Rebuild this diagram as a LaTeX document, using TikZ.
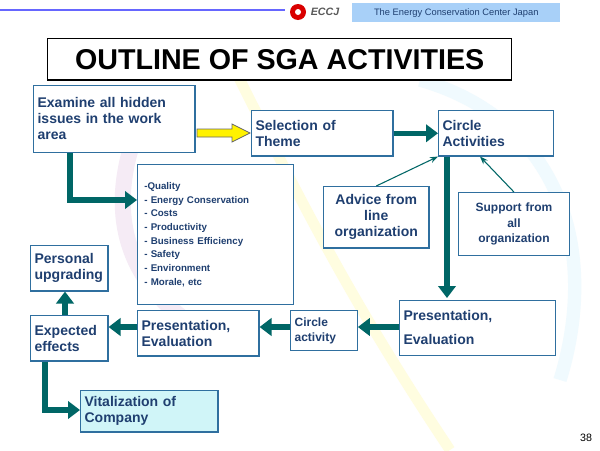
\documentclass[tikz,border=0pt]{standalone}
\usepackage{fontspec}
\setmainfont{Liberation Sans}
\usetikzlibrary{arrows.meta}
\definecolor{tx}{HTML}{1F3F70}
\definecolor{bd}{HTML}{2F6F9F}
\definecolor{ar}{HTML}{006666}
\tikzset{
 bx/.style={draw=bd,line width=0.9pt,fill=white,align=left,font=\bfseries\fontsize{10.5}{12}\selectfont,text=tx,inner sep=3pt,anchor=north west},
 big/.style={line width=4pt,draw=ar,-{Triangle[length=9pt,width=13pt]}},
 thin/.style={draw=ar,line width=0.8pt,-{Stealth[length=6pt]}}
}
\begin{document}
\begin{tikzpicture}[x=0.75pt,y=-0.75pt]
\useasboundingbox[fill=white] (0,0) rectangle (600,450);
% faint background
\draw[yellow!12,line width=8pt] (230,60) .. controls (300,200) and (350,300) .. (450,450);
\draw[cyan!6,line width=10pt] (420,80) .. controls (560,120) and (600,250) .. (560,380);
\draw[violet!8,line width=12pt] (150,100) .. controls (100,200) and (120,280) .. (200,330);
% header
\draw[blue!60,line width=2pt] (0,10) -- (285,10);
\fill[red!85!black] (298,12) circle (8);
\fill[white] (298,12) circle (3);
\node[font=\bfseries\itshape\fontsize{8}{9}\selectfont,text=gray!70!black] (eccj) at (325,12) {ECCJ};
\node[fill={rgb,255:red,168;green,208;blue,248},minimum width=156pt,minimum height=14pt,anchor=north west,inner sep=0pt,font=\fontsize{7}{9}\selectfont,text=tx] (hdr) at (352,3) {The Energy Conservation Center Japan};
\node[draw=black,fill=white,line width=1pt,minimum width=348pt,minimum height=31pt,anchor=north west,font=\bfseries\fontsize{21.5}{22}\selectfont] (title) at (47,38) {OUTLINE OF SGA ACTIVITIES};
% boxes
\node[bx,text width=115pt,minimum height=50pt] (exam) at (33,85) {Examine all hidden\\issues in the work\\area};
\node[bx,text width=100pt,minimum height=34pt] (sel) at (251,110) {Selection of\\Theme};
\node[bx,text width=80pt,minimum height=34pt] (circ) at (438,110) {Circle\\Activities};
\node[bx,text width=107pt,minimum height=105pt,font=\bfseries\fontsize{7.3}{10.3}\selectfont,inner sep=5pt] (list) at (137,164) {-Quality\\- Energy Conservation\\- Costs\\- Productivity\\- Business Efficiency\\- Safety\\- Environment\\- Morale, etc};
\node[bx,draw=bd,text width=73pt,minimum height=46pt,align=center] (adv) at (323,186) {Advice from\\line\\organization};
\node[bx,text width=77pt,minimum height=47pt,align=center,font=\bfseries\fontsize{9}{11.5}\selectfont] (sup) at (458,192) {Support from\\all\\organization};
\node[bx,text width=52pt,minimum height=34pt] (pers) at (30,245) {Personal\\upgrading};
\node[bx,text width=111pt,minimum height=41pt,font=\bfseries\fontsize{10.5}{18}\selectfont] (pr) at (399,300) {Presentation,\\Evaluation};
\node[bx,text width=44pt,minimum height=30pt,font=\bfseries\fontsize{9}{11}\selectfont] (ca) at (290,310) {Circle\\activity};
\node[bx,text width=85pt,minimum height=34pt] (pm) at (137,310) {Presentation,\\Evaluation};
\node[bx,text width=52pt,minimum height=34pt] (exp) at (30,315) {Expected\\effects};
\node[bx,fill={rgb,255:red,208;green,245;blue,248},text width=97pt,minimum height=31pt] (vit) at (80,390) {Vitalization of\\Company};
\node[font=\fontsize{8}{9}\selectfont] (pg) at (586,438) {38};
% arrows
\draw[draw=black!60,fill=yellow,line width=0.6pt] (197,129) -- (232,129) -- (232,124) -- (250,133) -- (232,142) -- (232,137) -- (197,137) -- cycle;
\draw[big] (sel.east) -- (circ.west);
\draw[big] (circ.south -| 447,0) -- (447,298);
\draw[thin] (adv.north) -- (circ.south west);
\draw[thin] (sup.north) -- (circ.south -| 480,0);
\draw[big] (pr.west |- 0,327) -- (ca.east |- 0,327);
\draw[big] (ca.west |- 0,327) -- (pm.east |- 0,327);
\draw[big] (pm.west |- 0,327) -- (exp.east |- 0,327);
\draw[big] (exp.north -| 65,0) -- (pers.south -| 65,0);
\draw[big] (exp.south -| 45,0) -- (45,410) -- (vit.west |- 0,410);
\draw[big] (exam.south -| 70,0) -- (70,200) -- (list.west |- 0,200);
\end{tikzpicture}
\end{document}
